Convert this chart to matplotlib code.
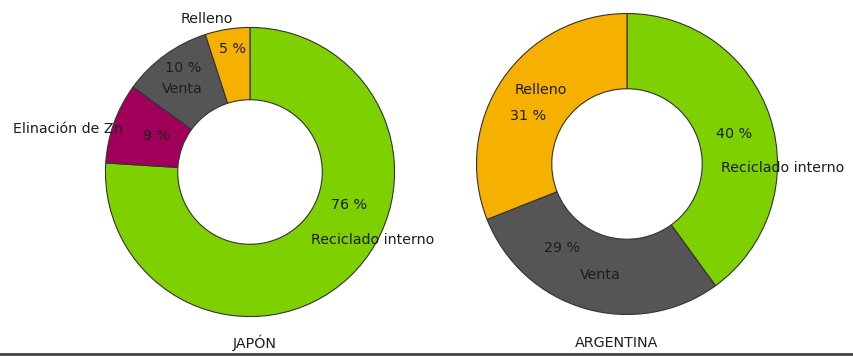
import matplotlib.pyplot as plt
from matplotlib.lines import Line2D

plt.rcParams['font.family'] = ['DejaVu Sans']
plt.rcParams['font.size'] = 10.3

# data
japan_labels = ["Reciclado interno", "Elinación de Zn", "Venta", "Relleno"]
japan_values = [76, 9, 10, 5]
japan_colors = ["#7ed000", "#a0005a", "#555555", "#f5b000"]

arg_labels = ["Reciclado interno", "Venta", "Relleno"]
arg_values = [40, 29, 31]
arg_colors = ["#7ed000", "#555555", "#f5b000"]

W, H = 854, 356
fig = plt.figure(figsize=(W / 100, H / 100), dpi=100)


def donut(cx, cy, r, values, colors):
    # cx, cy, r in pixels (cy from top)
    ax = fig.add_axes([(cx - r) / W, (H - cy - r) / H, 2 * r / W, 2 * r / H])
    ax.pie(values, colors=colors, startangle=90, counterclock=False,
           radius=1.0, wedgeprops={'width': 0.5, 'edgecolor': '#333333', 'linewidth': 0.8})
    ax.set_xlim(-1.01, 1.01)
    ax.set_ylim(-1.01, 1.01)
    ax.set_aspect('equal')
    ax.axis('off')
    return ax


ax1 = donut(250, 172, 146, japan_values, japan_colors)
ax2 = donut(627, 164, 152, arg_values, arg_colors)

tc = '#1e1e1e'
# Japan labels
ax1.text(-0.30, 1.055, japan_labels[3], ha='center', va='center', color=tc, clip_on=False)
ax1.text(-0.12, 0.85, f"{japan_values[3]} %", ha='center', va='center', color=tc)
ax1.text(-0.46, 0.72, f"{japan_values[2]} %", ha='center', va='center', color=tc)
ax1.text(-0.47, 0.575, japan_labels[2], ha='center', va='center', color=tc)
ax1.text(-1.64, 0.30, japan_labels[1], ha='left', va='center', color=tc, clip_on=False)
ax1.text(-0.65, 0.25, f"{japan_values[1]} %", ha='center', va='center', color=tc)
ax1.text(0.685, -0.226, f"{japan_values[0]} %", ha='center', va='center', color=tc)
ax1.text(0.425, -0.47, japan_labels[0], ha='left', va='center', color=tc, clip_on=False)

# Argentina labels
ax2.text(-0.57, 0.49, arg_labels[2], ha='center', va='center', color=tc)
ax2.text(-0.66, 0.32, f"{arg_values[2]} %", ha='center', va='center', color=tc)
ax2.text(0.71, 0.20, f"{arg_values[0]} %", ha='center', va='center', color=tc)
ax2.text(0.625, -0.026, arg_labels[0], ha='left', va='center', color=tc, clip_on=False)
ax2.text(-0.43, -0.56, f"{arg_values[1]} %", ha='center', va='center', color=tc)
ax2.text(-0.18, -0.74, arg_labels[1], ha='center', va='center', color=tc)

# titles below
fig.text(255 / W, 1 - 343 / H, "JAPÓN", ha='center', va='center', color=tc)
fig.text(617 / W, 1 - 343 / H, "ARGENTINA", ha='center', va='center', color=tc)

# bottom rule
fig.add_artist(Line2D([0, 1], [1 - 354 / H, 1 - 354 / H], color='#444444', linewidth=2,
                      transform=fig.transFigure))

fig.savefig("out.png", dpi=100, facecolor='white')
